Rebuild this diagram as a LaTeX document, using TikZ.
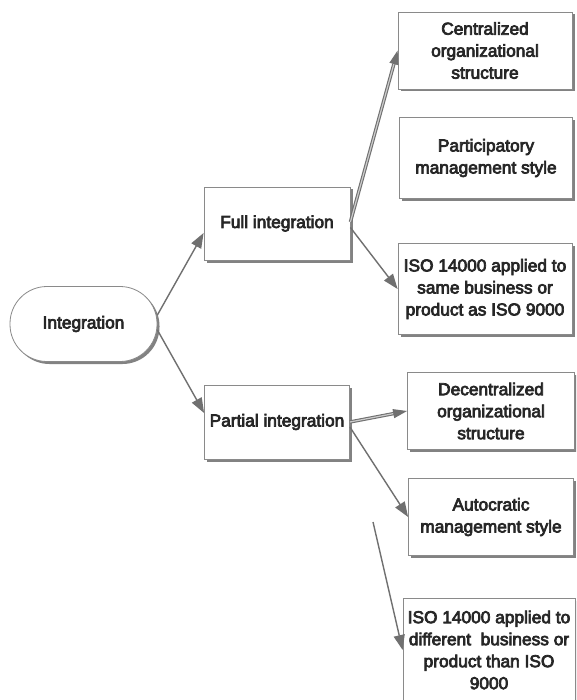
\documentclass[tikz,border=0pt]{standalone}
\usepackage{fontspec}
\newfontfamily\diafont{Liberation Sans}
\newcommand\heavytext[1]{\special{pdf:literal direct 2 Tr 0.7 w}#1\special{pdf:literal direct 0 Tr}}
\usetikzlibrary{shadows,arrows.meta,calc}
\definecolor{boxline}{HTML}{8A8A8A}
\definecolor{arrowgray}{HTML}{707070}
\definecolor{txt}{HTML}{262626}
\tikzset{
  dshadow/.style={drop shadow={shadow xshift=2.5pt, shadow yshift=-2.5pt, opacity=0.65, fill=black!75}},
  box/.style={rectangle, draw=boxline, line width=0.8pt, fill=white, inner sep=0pt,
    align=center, text=txt, font=\diafont\fontsize{17.3}{22}\selectfont, dshadow},
  stadium/.style={box, rounded corners=37pt},
  conn/.style={draw=arrowgray, fill=arrowgray, line width=1.4pt, -{Triangle[length=15pt,width=11pt]}},
  dconn/.style={draw=arrowgray, line width=1.1pt, double=gray!40, double distance=1.2pt,
    -{Triangle[length=14pt,width=9pt]}}
}
\begin{document}
\begin{tikzpicture}[x=1pt,y=-1pt]
\useasboundingbox (0,0) rectangle (576,700);
\clip (0,0) rectangle (576,700);
\fill[white] (0,0) rectangle (576,700);

\node[stadium, minimum width=147pt, minimum height=75pt] (integ) at (83.5,324) {\heavytext{Integration}};
\node[box, minimum width=146pt, minimum height=73pt] (full) at (277,223.5) {\heavytext{Full integration}};
\node[box, minimum width=145pt, minimum height=74pt] (partial) at (277,422) {\heavytext{Partial integration}};

\node[box, minimum width=174pt, minimum height=77pt] (central) at (485,50.5) {\heavytext{Centralized}\\\heavytext{organizational}\\\heavytext{structure}};
\node[box, minimum width=173pt, minimum height=81pt] (partic) at (486,158) {\heavytext{Participatory}\\\heavytext{management style}};
\node[box, minimum width=174pt, minimum height=91pt] (isosame) at (485,289) {\heavytext{ISO 14000 applied to}\\\heavytext{same business or}\\\heavytext{product as ISO 9000}};

\node[box, minimum width=167pt, minimum height=77pt] (decentral) at (491,411) {\heavytext{Decentralized}\\\heavytext{organizational}\\\heavytext{structure}};
\node[box, minimum width=165pt, minimum height=77pt] (autoc) at (491,517) {\heavytext{Autocratic}\\\heavytext{management style}};
\node[box, minimum width=172pt, minimum height=104pt] (isodiff) at (489,650) {\heavytext{ISO 14000 applied to}\\\heavytext{different~ business or}\\\heavytext{product than ISO}\\\heavytext{9000}};

\coordinate (fs) at (373,522);

\draw[conn] ([yshift=9pt]integ.east) -- ([yshift=-9.5pt]full.west);
\draw[conn] ([yshift=-6pt]integ.east) -- ([yshift=9pt]partial.west);
\draw[dconn] ([yshift=1.5pt]full.east) -- (central.west);
\draw[conn] ([yshift=-4pt]full.east) -- (isosame.west);
\draw[dconn] (partial.east) -- (decentral.west);
\draw[conn] ([yshift=-5pt]partial.east) -- (autoc.west);
\draw[conn] (fs) -- (isodiff.west);
\end{tikzpicture}
\end{document}
